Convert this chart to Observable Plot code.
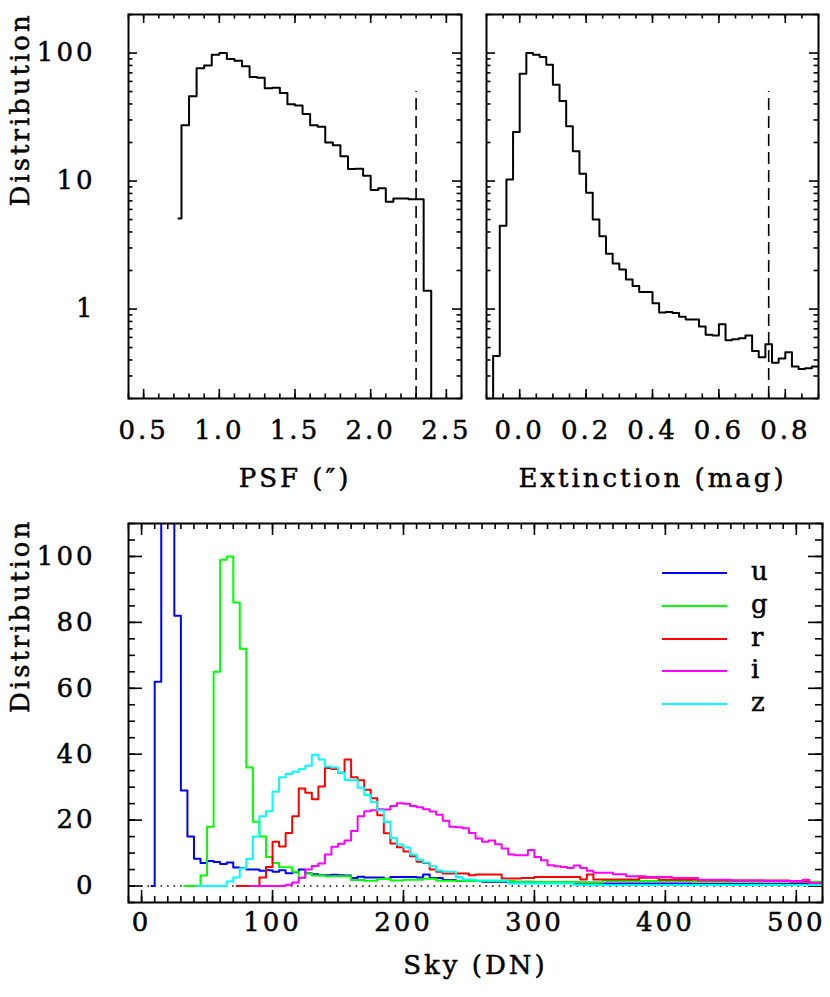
<!DOCTYPE html>
<html><head><meta charset="utf-8">
<script src="https://cdn.jsdelivr.net/npm/d3@7"></script>
<script src="https://cdn.jsdelivr.net/npm/@observablehq/plot@0.6"></script>
<style>
body{margin:0;background:#fff;}
#wrap{position:relative;width:830px;height:997px;background:#fff;font-family:'DejaVu Serif',serif;}
#wrap > svg{position:absolute;overflow:visible;}
.leg{position:absolute;font-family:'DejaVu Serif',serif;font-size:26px;line-height:26px;letter-spacing:3px;color:#000;-webkit-text-stroke:0.5px #000;}
</style></head><body><div id="wrap"></div>
<script>
// ---------- DATA ----------
// PSF histogram (bin edges in arcsec, normalized counts)
const psfEdges = [0.73,0.75,0.80,0.85,0.90,0.95,1.00,1.05,1.10,1.15,1.20,1.25,1.30,1.35,1.40,1.45,1.50,1.55,1.60,1.65,1.70,1.75,1.80,1.85,1.90,1.95,2.00,2.05,2.10,2.15,2.20,2.25,2.30,2.35,2.40,2.45];
const psfValues = [5.1,27.3,46,76,80,97,100,90,87,79,65,64,53,53.5,48.7,39.8,39,33.4,27.3,26.5,20,19,15.6,12.4,12.5,11,8.5,8.8,6.9,7.3,7.3,7.2,7.2,1.39,0];
const psfCut = [2.3];
// Extinction histogram (bin edges in mag)
const extEdges = [-0.08,-0.06,-0.04,-0.02,0.00,0.02,0.04,0.06,0.08,0.10,0.12,0.14,0.16,0.18,0.20,0.22,0.24,0.26,0.28,0.30,0.32,0.34,0.36,0.38,0.40,0.42,0.44,0.46,0.48,0.50,0.52,0.54,0.56,0.58,0.60,0.62,0.64,0.66,0.68,0.70,0.72,0.74,0.76,0.78,0.80,0.82,0.84,0.86,0.88,0.90];
const extValues = [0.43,4.47,10.3,24.2,69,100,97,93,81,56.6,42.2,26.8,17.1,11.4,8.1,5.0,3.7,2.7,2.27,2.04,1.70,1.51,1.36,1.36,1.11,0.94,0.95,0.93,0.87,0.83,0.83,0.73,0.63,0.62,0.76,0.57,0.58,0.59,0.62,0.47,0.42,0.53,0.38,0.41,0.46,0.355,0.34,0.345,0.355];
const extCut = [0.75];
const cutTop = 50;

// Sky histograms (bin edges in DN)
const bands = ["u","g","r","i","z"];
const bandColors = ["#0000ff","#00ff00","#ff0000","#ff00ff","#00ffff"];
const uEdges = [7.5,10,15,20,25,30,35,40,45,50,55,60,65,70,75,80,85,90,95,100,105,110,115,120,125,130,135,140,145,150,155,160,165,170,175,180,185,190,195,200,205,210,215,220,225,230,240,260,300,350,420,520];
const uValues = [0,62,160,140,82,29,15,8.3,7,7.6,7.3,6.7,7.1,5.6,5.5,5,5,4.6,4.8,4.3,4.8,3.9,4.2,5,3.9,3.6,3.3,3.3,3.4,3.3,3.2,2.4,2.8,2.6,2.6,2.6,2.2,2.7,2.7,2.7,2.7,2.6,3.5,2.4,2.4,1.8,1.5,1.3,1.0,0.8,0.6];
const gEdges = [32.5,45,50,55,60,65,70,75,80,85,90,95,100,105,110,115,120,125,130,140,160,170,180,190,200,215,225,245,285,335,352,355,420,520];
const gValues = [0,3.2,18,65,99,100,86,72,36,19.5,15,8.8,7,5.7,5.7,4.3,2.5,3.8,3.2,3.0,1.8,1.6,2.1,1.7,1.9,2.2,1.6,1.5,1.2,1.1,1.7,1.5,1.3];
const rEdges = [72.5,90,95,100,105,110,115,120,125,130,135,140,145,150,155,160,165,170,175,180,185,190,195,200,205,210,215,220,225,230,250,255,275,290,300,335,340,345,380,395,425,495,510,520];
const rValues = [0,2.6,5.8,13.4,12,16.1,21.2,29.6,28.3,26.3,30.2,35.8,35.5,34.4,38.4,33,32.1,29.2,26.6,21.5,16,12.9,11.8,10.5,9,7.4,7,5,4.3,3.8,3.3,3.5,2.3,2.4,2.7,2.0,3.5,2.0,2.5,1.9,1.7,1.4,0.9];
const iEdges = [82.5,110,115,120,125,130,135,140,145,150,155,160,165,170,175,180,185,190,195,200,205,210,215,220,225,230,235,240,245,250,255,260,265,270,275,280,285,290,295,300,305,310,315,320,325,330,335,340,345,360,370,385,405,425,450,475,505,510,520];
const iValues = [0,0.4,1.1,2.5,5,6.1,6.8,9.6,11.9,12.8,13.8,16.7,21.2,22.7,23,23.3,23.2,24.3,25.1,25,24.3,23.9,23.3,22.6,21.6,19.8,18,17.8,17.5,16.1,14.4,13.4,13.8,12.7,11.4,9.6,9.3,9.3,10.9,8.8,7.8,6.3,6.0,5.8,5.5,6.2,5.5,4.6,4.0,3.6,3.0,2.7,2.4,1.9,1.7,1.5,1.9,1.0];
const zEdges = [42.5,65,70,75,80,85,90,95,100,105,110,115,120,125,130,135,140,145,150,155,160,165,170,175,180,185,190,195,200,205,210,215,220,225,230,240,245,255,280,330,520];
const zValues = [0,1.4,2.6,5.4,8.2,15,21.2,22.7,28.6,33,34,34.7,35.5,36.5,39.8,38.4,36.3,36,34.4,32.2,32.2,29.8,27.6,25.5,23,19.4,14.6,12.6,11.7,9.6,8,7.1,6,4.7,4.3,2.7,2,1.7,0.8,0.3];

// Tick labels
const psfTicks = [0.5,1.0,1.5,2.0,2.5];
const extTicks = [0.0,0.2,0.4,0.6,0.8];
const logTicks = [1,10,100];
const logMinor = [0.2,0.3,0.4,0.5,0.6,0.7,0.8,0.9,2,3,4,5,6,7,8,9,20,30,40,50,60,70,80,90,200];
const skyTicks = [0,100,200,300,400,500];
const distTicks = [0,20,40,60,80,100];

// ---------- HELPERS ----------
function steps(edges, values) {
  const pts = values.map((v, k) => ({x: edges[k], y: v}));
  pts.push({x: edges[edges.length - 1], y: values[values.length - 1]});
  return pts;
}
function frameTicks(xs, ys, W, H, lx, ly) {
  const o = {stroke: "black", strokeWidth: 1.6};
  return [
    Plot.ruleX(xs, {...o, x: d => d, insetTop: H - lx}),
    Plot.ruleX(xs, {...o, x: d => d, insetBottom: H - lx}),
    Plot.ruleY(ys, {...o, y: d => d, insetRight: W - ly}),
    Plot.ruleY(ys, {...o, y: d => d, insetLeft: W - ly})
  ];
}
const FONT = "'DejaVu Serif', serif";
const FS = 26;
const T = {fontSize: FS, stroke: "black", strokeWidth: 0.5, fill: "black"};
const style = {fontFamily: FONT, fontSize: FS + "px", background: "transparent", overflow: "visible", letterSpacing: "3px"};
const wrap = document.getElementById("wrap");
function place(svg, left, top) { svg.style.left = left + "px"; svg.style.top = top + "px"; wrap.appendChild(svg); }

// ---------- TOP LEFT: PSF ----------
{
  const W = 470, Hh = 505, mL = 128, mR = 9, mT = 14, mB = 107;
  const fw = W - mL - mR, fh = Hh - mT - mB;
  const svg = Plot.plot({
    width: W, height: Hh, marginLeft: mL, marginRight: mR, marginTop: mT, marginBottom: mB,
    style,
    x: {domain: [0.4, 2.6], axis: null},
    y: {type: "log", domain: [0.2, 200], axis: null},
    marks: [
      ...frameTicks(d3.range(0.4, 2.61, 0.1), logMinor, fw, fh, 4.5, 4.5),
      ...frameTicks(psfTicks, logTicks, fw, fh, 9, 9),
      Plot.ruleX(psfCut, {x: d => d, y1: 0.2, y2: cutTop, stroke: "black", strokeWidth: 1.6, strokeDasharray: "12,6"}),
      Plot.line(steps(psfEdges, psfValues), {x: "x", y: d => Math.max(d.y, 1e-3), curve: "step-after", stroke: "black", strokeWidth: 2, clip: true}),
      Plot.frame({stroke: "black", strokeWidth: 2}),
      Plot.text(psfTicks, {...T, x: d => d, frameAnchor: "bottom", dy: 40, text: d => d.toFixed(1)}),
      Plot.text(logTicks, {...T, y: d => d, frameAnchor: "left", dx: -33, textAnchor: "end", text: d => String(d), letterSpacing: "5px"}),
      Plot.text(["PSF (\u2033)"], {...T, frameAnchor: "bottom", dy: 88, text: d => d}),
      Plot.text(["Distribution"], {...T, frameAnchor: "left", dx: -108, rotate: -90, text: d => d})
    ]
  });
  place(svg, 0, 0);
}

// ---------- TOP RIGHT: EXTINCTION ----------
{
  const W = 360, Hh = 505, mL = 16, mR = 12, mT = 14, mB = 107;
  const fw = W - mL - mR, fh = Hh - mT - mB;
  const svg = Plot.plot({
    width: W, height: Hh, marginLeft: mL, marginRight: mR, marginTop: mT, marginBottom: mB,
    style,
    x: {domain: [-0.1, 0.9], axis: null},
    y: {type: "log", domain: [0.2, 200], axis: null},
    marks: [
      ...frameTicks(d3.range(-0.1, 0.91, 0.05), logMinor, fw, fh, 4.5, 4.5),
      ...frameTicks(extTicks, logTicks, fw, fh, 9, 9),
      Plot.ruleX(extCut, {x: d => d, y1: 0.2, y2: cutTop, stroke: "black", strokeWidth: 1.6, strokeDasharray: "12,6"}),
      Plot.line([{x: extEdges[0], y: 1e-3}, ...steps(extEdges, extValues)], {x: "x", y: "y", curve: "step-after", stroke: "black", strokeWidth: 2, clip: true}),
      Plot.frame({stroke: "black", strokeWidth: 2}),
      Plot.text(extTicks, {...T, x: d => d, frameAnchor: "bottom", dy: 40, text: d => d.toFixed(1)}),
      Plot.text(["Extinction (mag)"], {...T, frameAnchor: "bottom", dy: 88, text: d => d})
    ]
  });
  place(svg, 470, 0);
}

// ---------- BOTTOM: SKY ----------
{
  const W = 830, Hh = 492, mL = 128, mR = 8, mT = 18, mB = 95;
  const fw = W - mL - mR, fh = Hh - mT - mB;
  const series = [[uEdges, uValues], [gEdges, gValues], [rEdges, rValues], [iEdges, iValues], [zEdges, zValues]];
  const svg = Plot.plot({
    width: W, height: Hh, marginLeft: mL, marginRight: mR, marginTop: mT, marginBottom: mB,
    style,
    x: {domain: [-10, 520], axis: null},
    y: {domain: [-5, 110], axis: null},
    marks: [
      ...frameTicks(d3.range(-10, 521, 10), d3.range(-5, 111, 5), fw, fh, 6, 7),
      ...frameTicks(skyTicks, distTicks, fw, fh, 12, 14),
      Plot.ruleY([0], {x1: 0, x2: 520, stroke: "black", strokeWidth: 1.5, strokeDasharray: "1.5,5"}),
      ...series.map(([e, v], k) => Plot.line(steps(e, v), {x: "x", y: "y", curve: "step-after", stroke: bandColors[k], strokeWidth: 2, clip: true})),
      Plot.frame({stroke: "black", strokeWidth: 2}),
      Plot.text(skyTicks, {...T, x: d => d, frameAnchor: "bottom", dy: 28, text: d => String(d)}),
      Plot.text(distTicks, {...T, y: d => d, frameAnchor: "left", dx: -33, textAnchor: "end", text: d => String(d), letterSpacing: "5px"}),
      Plot.text(["Sky (DN)"], {...T, frameAnchor: "bottom", dy: 71, text: d => d}),
      Plot.text(["Distribution"], {...T, frameAnchor: "left", dx: -108, rotate: -90, text: d => d})
    ]
  });
  place(svg, 0, 505);
}

// ---------- LEGEND ----------
bands.forEach((b, k) => {
  const yc = 573 + k * 32.8;
  const line = document.createElement("div");
  line.className = "leg";
  line.style.left = "662px"; line.style.top = (yc - 1) + "px";
  line.style.width = "65px"; line.style.height = "2px"; line.style.background = bandColors[k];
  wrap.appendChild(line);
  const t = document.createElement("div");
  t.className = "leg";
  t.style.left = "751px"; t.style.top = (yc - 15) + "px";
  t.textContent = b;
  wrap.appendChild(t);
});
</script></body></html>
